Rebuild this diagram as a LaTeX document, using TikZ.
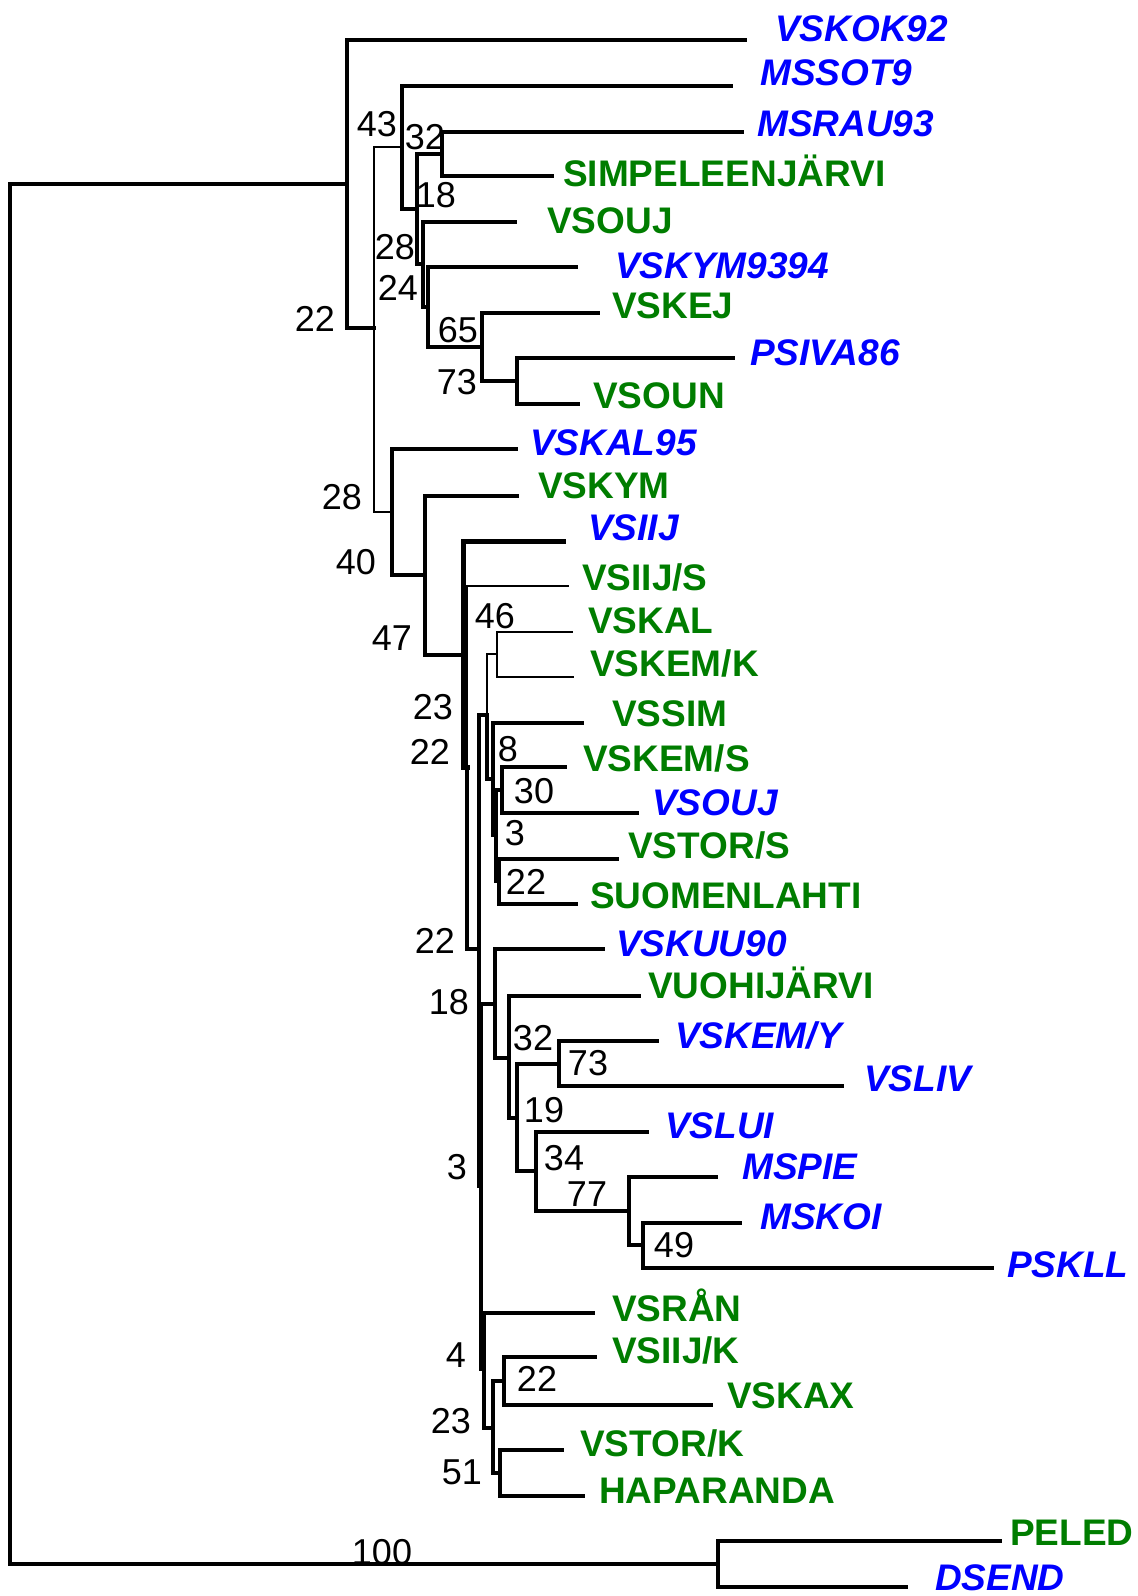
\documentclass[tikz,border=0pt]{standalone}
\usepackage{fontspec}
\setmainfont{Liberation Sans}
\definecolor{taxgreen}{RGB}{0,125,0}
\definecolor{taxblue}{RGB}{0,0,255}
\tikzset{
  branch/.style={line width=3.4pt, line cap=rect},
  thinbranch/.style={line width=1.8pt, line cap=rect},
  thickbranch/.style={line width=5pt, line cap=rect},
  taxon/.style={anchor=west, inner sep=0pt, text height=26.5pt, text depth=0pt},
  greentaxon/.style={taxon, text=taxgreen, font=\fontsize{37}{40}\selectfont\bfseries},
  bluetaxon/.style={taxon, text=taxblue, font=\fontsize{37}{40}\selectfont\bfseries\itshape},
  boot/.style={inner sep=0pt, text height=25pt, text depth=0pt, font=\fontsize{36}{40}\selectfont}
}
% tip coordinate, then its name
\newcommand{\leaf}[7]{\coordinate (#1) at (#2,#3); \node[#6] (#1 name) at (#4,#5) {#7};}

\begin{document}
\begin{tikzpicture}[x=1pt,y=-1pt]
  \useasboundingbox (0,0) rectangle (1138,1596);
  % inner nodes
  \coordinate (root) at (10,874);
  \coordinate (nTop) at (347,184);
  \coordinate (nUp) at (374,328);
  \coordinate (n43) at (402,147);
  \coordinate (n28) at (417,209);
  \coordinate (n32) at (442,154);
  \coordinate (n24) at (423,264);
  \coordinate (n65) at (428,307);
  \coordinate (n73) at (482,347);
  \coordinate (nPV) at (517,381);
  \coordinate (n40) at (392,512);
  \coordinate (n47) at (425,575);
  \coordinate (nT) at (463,655);
  \coordinate (nS) at (467,767);
  \coordinate (nU) at (479,949);
  \coordinate (nP) at (487,715);
  \coordinate (n46) at (497,654);
  \coordinate (nQ) at (493,779);
  \coordinate (nR) at (496,835);
  \coordinate (n30) at (502,790);
  \coordinate (n22a) at (499,881);
  \coordinate (nV) at (481,1186);
  \coordinate (nW) at (495,1004);
  \coordinate (n32b) at (509,1058);
  \coordinate (n19) at (517,1118);
  \coordinate (n73b) at (559,1064);
  \coordinate (n34) at (536,1171);
  \coordinate (n77) at (629,1211);
  \coordinate (n49) at (643,1245);
  \coordinate (nX) at (484,1369);
  \coordinate (nY) at (493,1428);
  \coordinate (n22b) at (504,1381);
  \coordinate (n51) at (500,1473);
  \coordinate (nOut) at (718,1564);

  % leaves
  \leaf{lVSKOK92}{745}{40}{775}{28}{bluetaxon}{VSKOK92}
  \leaf{lMSSOT9}{731}{86}{760}{72}{bluetaxon}{MSSOT9}
  \leaf{lMSRAU93}{742}{132}{757}{123}{bluetaxon}{MSRAU93}
  \leaf{lSIMPEL}{552}{176}{563}{173}{greentaxon}{SIMPELEENJÄRVI}
  \leaf{lVSOUJ}{515}{222}{547}{220}{greentaxon}{VSOUJ}
  \leaf{lVSKYM9394}{576}{267}{615}{265}{bluetaxon}{VSKYM9394}
  \leaf{lVSKEJ}{598}{313}{612}{305}{greentaxon}{VSKEJ}
  \leaf{lPSIVA86}{733}{358}{750}{352}{bluetaxon}{PSIVA86}
  \leaf{lVSOUN}{578}{404}{593}{395}{greentaxon}{VSOUN}
  \leaf{lVSKAL95}{516}{449}{530}{442}{bluetaxon}{VSKAL95}
  \leaf{lVSKYM}{517}{496}{538}{485}{greentaxon}{VSKYM}
  \leaf{lVSIIJ}{563}{541}{588}{527}{bluetaxon}{VSIIJ}
  \leaf{lVSIIJS}{568}{586}{582}{577}{greentaxon}{VSIIJ/S}
  \leaf{lVSKAL}{572}{632}{588}{620}{greentaxon}{VSKAL}
  \leaf{lVSKEMK}{573}{677}{590}{663}{greentaxon}{VSKEM/K}
  \leaf{lVSSIM}{582}{723}{612}{713}{greentaxon}{VSSIM}
  \leaf{lVSKEMS}{565}{767}{583}{758}{greentaxon}{VSKEM/S}
  \leaf{lVSOUJb}{637}{813}{652}{802}{bluetaxon}{VSOUJ}
  \leaf{lVSTORS}{617}{859}{628}{845}{greentaxon}{VSTOR/S}
  \leaf{lSUOMEN}{576}{904}{590}{895}{greentaxon}{SUOMENLAHTI}
  \leaf{lVSKUU90}{603}{949}{616}{943}{bluetaxon}{VSKUU90}
  \leaf{lVUOHI}{639}{996}{648}{985}{greentaxon}{VUOHIJÄRVI}
  \leaf{lVSKEMY}{657}{1041}{675}{1035}{bluetaxon}{VSKEM/Y}
  \leaf{lVSLIV}{842}{1086}{864}{1078}{bluetaxon}{VSLIV}
  \leaf{lVSLUI}{647}{1132}{665}{1125}{bluetaxon}{VSLUI}
  \leaf{lMSPIE}{716}{1177}{742}{1166}{bluetaxon}{MSPIE}
  \leaf{lMSKOI}{740}{1223}{760}{1216}{bluetaxon}{MSKOI}
  \leaf{lPSKLL}{992}{1268}{1007}{1264}{bluetaxon}{PSKLL}
  \leaf{lVSRAN}{593}{1313}{612}{1308}{greentaxon}{VSRÅN}
  \leaf{lVSIIJK}{595}{1357}{612}{1350}{greentaxon}{VSIIJ/K}
  \leaf{lVSKAX}{711}{1405}{727}{1395}{greentaxon}{VSKAX}
  \leaf{lVSTORK}{562}{1450}{580}{1443}{greentaxon}{VSTOR/K}
  \leaf{lHAPAR}{583}{1496}{599}{1490}{greentaxon}{HAPARANDA}
  \leaf{lPELED}{1000}{1541}{1010}{1532}{greentaxon}{PELED}
  \leaf{lDSEND}{906}{1587}{935}{1577}{bluetaxon}{DSEND}

  % branches
  \foreach \a/\b in {root/nTop, root/nOut, nTop/lVSKOK92, nTop/nUp,
      n43/lMSSOT9, n43/n28, n28/n32, n28/n24, n32/lMSRAU93, n32/lSIMPEL,
      n24/lVSOUJ, n24/n65, n65/lVSKYM9394, n65/n73, n73/lVSKEJ, n73/nPV,
      nPV/lPSIVA86, nPV/lVSOUN, n40/lVSKAL95, n40/n47, n47/lVSKYM, n47/nT,
      nS/nU, nU/nP, nU/nV, nP/nQ, nQ/lVSSIM, nQ/nR, nR/n30, nR/n22a,
      n30/lVSKEMS, n30/lVSOUJb, n22a/lVSTORS, n22a/lSUOMEN,
      nV/nW, nV/nX, nW/lVSKUU90, nW/n32b, n32b/lVUOHI, n32b/n19,
      n19/n73b, n19/n34, n73b/lVSKEMY, n73b/lVSLIV, n34/lVSLUI, n34/n77,
      n77/lMSPIE, n77/n49, n49/lMSKOI, n49/lPSKLL, nX/lVSRAN, nX/nY,
      nY/n22b, nY/n51, n22b/lVSIIJK, n22b/lVSKAX, n51/lVSTORK, n51/lHAPAR,
      nOut/lPELED, nOut/lDSEND}
    \draw[branch] (\a) |- (\b);
  \foreach \a/\b in {nUp/n43, nUp/n40, nS/lVSIIJS, n46/lVSKAL, n46/lVSKEMK, nP/n46}
    \draw[thinbranch] (\a) |- (\b);
  \draw[thickbranch] (nT) |- (lVSIIJ);
  \draw[thickbranch] (nT) |- (nS);

  % support values
  \foreach \v/\x/\y in {43/377/124, 32/425/137, 18/436/195, 28/395/247,
      24/398/288, 22/315/319, 65/458/330, 73/457/382, 28/342/497,
      40/356/562, 47/392/638, 46/495/616, 23/433/707, 22/430/752,
      8/508/749, 30/534/791, 3/515/833, 22/526/882, 22/435/941,
      18/449/1002, 32/533/1038, 73/588/1063, 19/544/1110, 3/457/1167,
      34/564/1158, 77/587/1194, 49/674/1245, 4/456/1355, 22/537/1379,
      23/451/1421, 51/462/1472, 100/382/1552}
    \node[boot] (boot-\x-\y) at (\x,\y) {\v};
\end{tikzpicture}
\end{document}
